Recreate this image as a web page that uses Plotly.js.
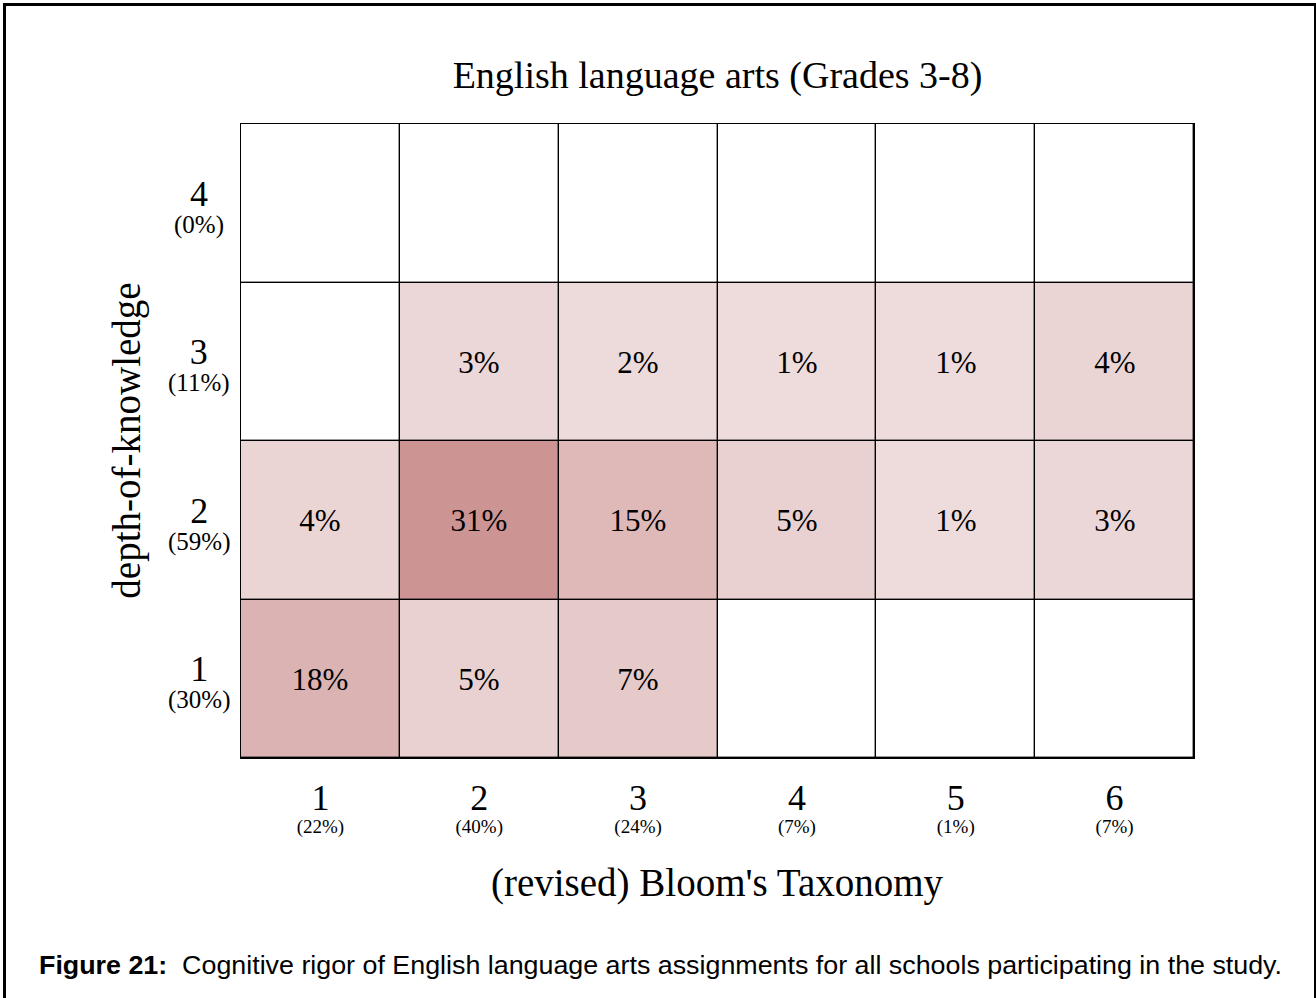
<!DOCTYPE html>
<html>
<head>
<meta charset="utf-8">
<script src="https://cdn.plot.ly/plotly-3.0.1.min.js"></script>
<style>
html,body{margin:0;padding:0;background:#fff;}
#wrap{position:relative;width:1316px;height:998px;overflow:hidden;}
#chart{position:absolute;left:0;top:0;width:1316px;height:998px;}
#frame{position:absolute;left:3px;top:3px;width:1308px;height:1000px;border-left:3px solid #000;border-top:3px solid #000;border-right:3px solid #000;pointer-events:none;}
#caption{position:absolute;left:39px;top:950px;white-space:pre;font-family:'Liberation Sans',Arial,sans-serif;font-size:25px;line-height:30px;color:#000;transform-origin:0 0;}
</style>
</head>
<body>
<div id="wrap"><div id="chart"></div><div id="frame"></div><div id="caption"></div></div>
<script>
// Data
const bloomLevels = [1, 2, 3, 4, 5, 6];
const bloomTotals = ['22%', '40%', '24%', '7%', '1%', '7%'];
const dokLevels = [1, 2, 3, 4];
const dokTotals = ['30%', '59%', '11%', '0%'];
const dok1 = [18, 5, 7, 0, 0, 0];
const dok2 = [4, 31, 15, 5, 1, 3];
const dok3 = [0, 3, 2, 1, 1, 4];
const dok4 = [0, 0, 0, 0, 0, 0];
const chartTitle = 'English language arts (Grades 3-8)';
const xTitle = "(revised) Bloom's Taxonomy";
const yTitle = 'depth-of-knowledge';
const captionLabel = 'Figure 21:';
const captionText = '  Cognitive rigor of English language arts assignments for all schools participating in the study.';

const z = [dok1, dok2, dok3, dok4];
const txt = z.map(r => r.map(v => v > 0 ? v + '%' : ''));
const zmax = 31;

const serif = 'Liberation Serif';

const trace = {
  type: 'heatmap',
  x: bloomLevels,
  y: dokLevels,
  z: z,
  text: txt,
  texttemplate: '%{text}',
  textfont: {family: serif, size: 31, color: '#000'},
  zmin: 0, zmax: zmax,
  colorscale: [
    [0, '#ffffff'],
    [0.02, '#eedcdc'],
    [0.07, '#eddada'],
    [0.10, '#ebd7d7'],
    [0.13, '#ead4d4'],
    [0.16, '#e9d1d1'],
    [0.23, '#e6caca'],
    [0.48, '#dfb8b8'],
    [0.58, '#dbb3b3'],
    [1, '#cd9494']
  ],
  showscale: false,
  xgap: 1.4, ygap: 1.4,
  hoverinfo: 'skip'
};

const twoLine = (a, b, big, small) => '<span style="font-size:' + big + 'px">' + a + '</span><br><span style="font-size:' + small + 'px">(' + b + ')</span>';

const annotations = dokLevels.map((d, i) => ({
  xref: 'paper', yref: 'y', x: -0.044, y: d, xanchor: 'center', yanchor: 'middle', yshift: -3,
  align: 'center', showarrow: false,
  text: twoLine(d, dokTotals[i], 36, 25),
  font: {family: serif, size: 21, color: '#000'}
}));
annotations.push({
  xref: 'paper', yref: 'paper', x: -0.12, y: 0.5, xanchor: 'center', yanchor: 'middle',
  textangle: -90, showarrow: false, text: yTitle,
  font: {family: serif, size: 39, color: '#000'}
});
annotations.push({
  xref: 'paper', yref: 'paper', x: 0.5, y: -0.197, xanchor: 'center', yanchor: 'middle',
  showarrow: false, text: xTitle,
  font: {family: serif, size: 39, color: '#000'}
});

const layout = {
  width: 1316, height: 998,
  margin: {l: 241, r: 122, t: 124, b: 240, pad: 0},
  font: {family: serif, color: '#000'},
  paper_bgcolor: '#fff',
  plot_bgcolor: '#000',
  showlegend: false,
  title: {text: chartTitle, x: 0.5, xref: 'paper', xanchor: 'center', y: 0.925, yref: 'container', yanchor: 'middle',
          font: {family: serif, size: 38, color: '#000'}},
  xaxis: {
    range: [0.5, 6.5], tickvals: bloomLevels,
    ticktext: bloomLevels.map((b, i) => twoLine(b, bloomTotals[i], 36, 19)),
    tickfont: {family: serif, size: 17, color: '#000'},
    ticks: '', ticklabelstandoff: 31,
    showgrid: false, zeroline: false, showline: true, mirror: true, linecolor: '#000', linewidth: 1,
    fixedrange: true
  },
  yaxis: {
    range: [0.5, 4.5], tickvals: dokLevels, showticklabels: false,
    ticks: '', showgrid: false, zeroline: false, showline: true, mirror: true, linecolor: '#000', linewidth: 1,
    fixedrange: true
  },
  annotations: annotations
};

Plotly.newPlot('chart', [trace], layout, {staticPlot: true, displayModeBar: false});

// caption (real text), stretched to the reference width
const cap = document.getElementById('caption');
const b = document.createElement('b');
b.textContent = captionLabel;
cap.appendChild(b);
cap.appendChild(document.createTextNode(captionText));
const targetW = 1243;
const w = cap.getBoundingClientRect().width;
if (w > 0) cap.style.transform = 'scaleX(' + (targetW / w) + ')';
</script>
</body>
</html>
